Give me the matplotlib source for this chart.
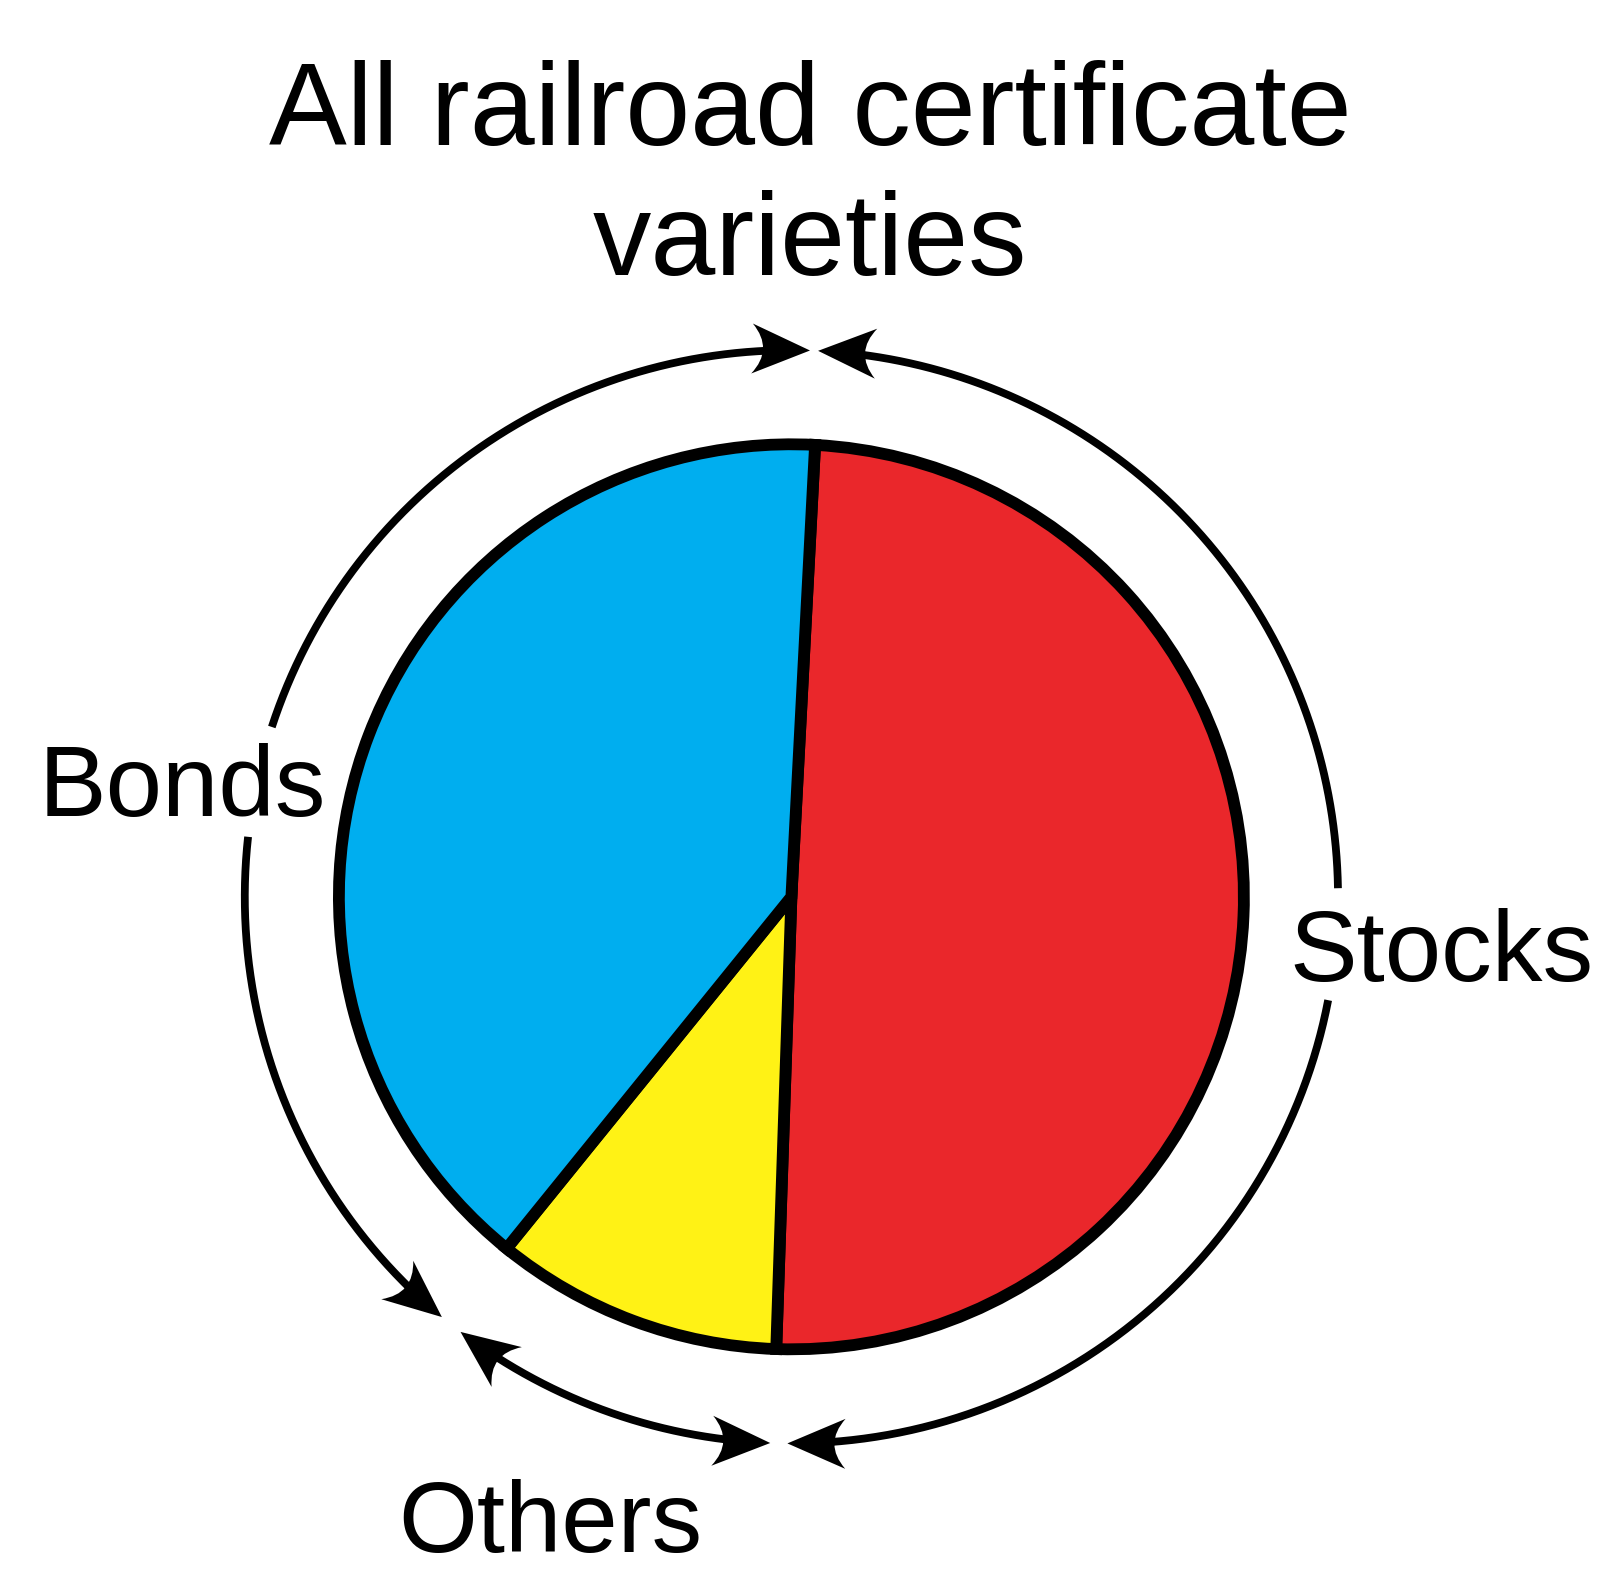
import numpy as np
import matplotlib
matplotlib.use('Agg')
import matplotlib.pyplot as plt
from matplotlib.patches import PathPatch
from matplotlib.path import Path

plt.rcParams['font.family'] = ['Liberation Sans', 'DejaVu Sans']

# data
labels = ['Stocks', 'Others', 'Bonds']
shares = [49.7, 10.3, 40.0]
colors = ['#EA272B', '#FFF215', '#00AEEF']
title_lines = ['All railroad certificate', 'varieties']

W, H, DPI = 1620, 1590, 100
R_PX = 452.5           # pie radius in pixels
CX, CY = 791.4, 896.8  # pie centre (pixels, from top-left)

fig = plt.figure(figsize=(W / DPI, H / DPI), dpi=DPI)
ax = fig.add_axes([0, 0, 1, 1])

wedges, _ = ax.pie(shares, colors=colors, startangle=87, counterclock=False,
                   radius=1.0, center=(0, 0),
                   wedgeprops=dict(edgecolor='black', linewidth=8.5))
ax.set_xlim(-CX / R_PX, (W - CX) / R_PX)
ax.set_ylim(-(H - CY) / R_PX, CY / R_PX)
ax.set_aspect('equal')
ax.axis('off')

b_top = wedges[0].theta2 % 360    # stocks / bonds
b_bot = wedges[0].theta1 % 360    # stocks / others
b_left = wedges[1].theta1 % 360   # others / bonds

RA = 1.208                 # radius of the bracket arcs
HL = 58 / R_PX             # arrow head length
HW = 25 / R_PX             # arrow head half width


def head(a, d):
    # arrow head with its tip on the arc at angle a, travelling in direction d
    t = np.radians(a)
    p = RA * np.array([np.cos(t), np.sin(t)])
    n = np.array([np.cos(t), np.sin(t)])
    tg = d * np.array([-np.sin(t), np.cos(t)])
    b1 = p - HL * tg + HW * n
    b2 = p - HL * tg - HW * n
    c = p - 0.62 * HL * tg
    verts = [p, b1, c, b2, p, p]
    codes = [Path.MOVETO, Path.LINETO, Path.CURVE3, Path.CURVE3,
             Path.LINETO, Path.CLOSEPOLY]
    ax.add_patch(PathPatch(Path(verts, codes), facecolor='black',
                           edgecolor='none', zorder=4))


def arc(a0, a1, start_head=False, end_head=True):
    d = 1 if a1 > a0 else -1
    back = np.degrees(0.75 * HL / RA)
    s = a0 + d * back if start_head else a0
    e = a1 - d * back if end_head else a1
    t = np.radians(np.linspace(s, e, 300))
    ax.plot(RA * np.cos(t), RA * np.sin(t), color='black', lw=5.6,
            solid_capstyle='butt', zorder=3)
    if end_head:
        head(a1, d)
    if start_head:
        head(a0, -d)


# bonds bracket, split around its label
arc(161.9, b_top + 1.05)
arc(173.7, b_left - 0.75)
# stocks bracket, split around its label
arc(0.9, b_top + 0.2)
arc(-10.9, b_bot - 360 + 1.5)
# others bracket
arc(b_left + 1.75, b_bot - 0.3, start_head=True)

ax.text(-1.347, 0.179, 'Bonds', fontsize=73, ha='center', va='baseline')
ax.text(1.437, -0.187, 'Stocks', fontsize=73, ha='center', va='baseline')
ax.text(-0.532, -1.447, 'Others', fontsize=73, ha='center', va='baseline')

fig.text(0.5, 1 - 144.6 / H, title_lines[0], fontsize=84, ha='center', va='baseline')
fig.text(0.5, 1 - 274.8 / H, title_lines[1], fontsize=84, ha='center', va='baseline')

fig.savefig('out.png', dpi=DPI, facecolor='white')
